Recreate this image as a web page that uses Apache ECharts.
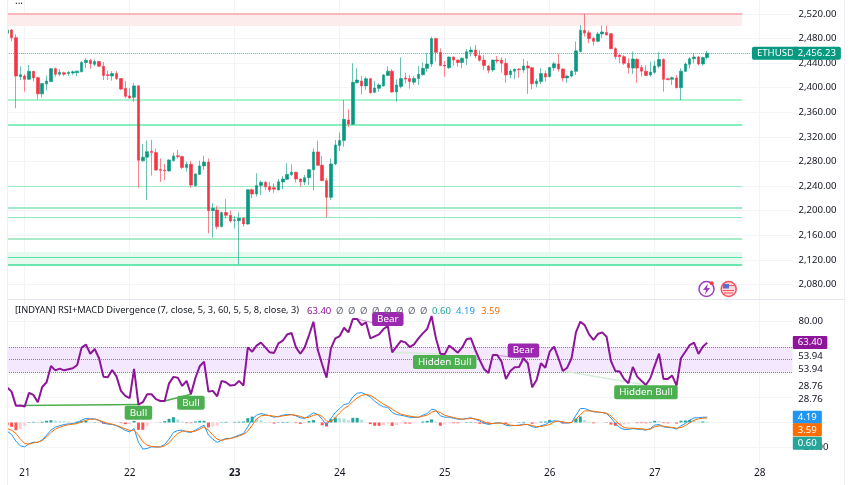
<!DOCTYPE html>
<html>
  <head>
    <meta charset="utf-8" />
    <script src="https://cdn.jsdelivr.net/npm/echarts@6/dist/echarts.min.js"></script>
  </head>
  <body>
    <style>
      html,
      body,
      #main {
        width: 100%;
        height: 100%;
        margin: 0;
        background: #fff;
      }
    </style>
    <div id="main"></div>
    <script>
      // hourly candles, first row is 4 hours before the "21" tick: [open, close, low, high]
      var candles = [
        [2488.5,2494,2487,2495],[2494,2481.5,2475.5,2495.6],[2481.5,2419,2366.5,2487],[2418,2421,2412.6,2435],
        [2419,2413.7,2393.6,2422],[2413.7,2426.7,2412.6,2437],[2426.7,2416,2410,2427],[2416.4,2390,2381,2418],
        [2390,2407,2384,2407],[2406,2411,2395,2420],[2410,2431,2409,2432],[2431,2422,2418,2433],
        [2422,2425,2419,2430.5],[2424.5,2422,2419,2426],[2423,2425,2419,2427],[2424,2426,2421,2428],
        [2424.5,2427,2419,2428],[2426,2441,2425,2443.5],[2441,2444.6,2432,2448],[2444.6,2439,2431,2447],
        [2438,2442.5,2435,2446],[2442.5,2435,2434,2444],[2435,2420,2412.6,2442],[2421,2420,2412.6,2428],
        [2419,2423,2411.5,2427],[2423,2415,2412.6,2427],[2415,2398,2396,2415],[2399,2386,2383,2411],
        [2386.6,2383.3,2382,2399],[2384.4,2403,2377,2408],[2403,2282,2237.4,2404],[2281,2287,2280,2308.5],
        [2287,2296,2217,2314],[2296.5,2294.4,2257,2315],[2294.4,2266,2265,2301],[2267,2265.6,2246.6,2285],
        [2266,2265,2250,2276],[2264.6,2282.5,2263.5,2283.5],[2281.4,2289,2279.7,2294.4],[2289.5,2288,2285,2298.7],
        [2288,2270,2268,2289],[2270,2275.4,2263.5,2280],[2275.4,2241.8,2237.4,2281],[2240.7,2259.7,2239,2260.8],
        [2259,2272.7,2258,2281.4],[2272.7,2279,2266,2289.5],[2279,2200,2163,2285],[2200,2203.8,2156,2212],
        [2201,2174,2169.6,2207.6],[2174,2196.8,2173,2198.4],[2196.8,2192.4,2187,2219],[2192.4,2183,2180.5,2200],
        [2184,2185,2171,2191],[2183.7,2187.5,2112.7,2197],[2187.5,2178.3,2174,2189],[2178.3,2234,2177,2235],
        [2234,2227,2220,2236],[2227,2241,2223,2261],[2241,2246,2225.5,2249],[2246,2239,2233.6,2248],
        [2239,2233.6,2230,2247],[2237.4,2235,2229,2244.5],[2233.6,2247,2233.6,2251.5],[2246.6,2251.5,2234.7,2256.4],
        [2251,2259,2250,2277],[2258.6,2262.4,2256.4,2275],[2262.4,2251.5,2245.6,2263.5],[2251.5,2247,2239,2252.5],
        [2246.6,2253.7,2241.8,2258],[2253.7,2266.7,2241.8,2267.8],[2266.7,2295.5,2232.6,2301.4],[2295.5,2273.8,2272.7,2314],
        [2274,2248.8,2248.8,2289],[2248.8,2221.7,2189,2253],[2221.7,2276,2217.4,2285],[2276,2306.8,2274,2315],
        [2306,2314,2297,2327],[2314,2348.6,2304,2380],[2347.5,2341,2335.6,2365],[2340.5,2408.8,2340,2439.7],
        [2408,2412.6,2407,2431.6],[2411,2403,2389,2419],[2403,2414.8,2396,2418],[2414.8,2392,2390,2416],
        [2392.5,2399.6,2392,2411],[2399,2404.5,2393.6,2407],[2403,2420.7,2402,2422],[2420,2427,2419,2435],
        [2427,2393,2392,2430],[2393,2404.5,2377,2413.7],[2402,2415,2399,2449.5],[2416,2414,2407,2424.5],
        [2415,2410,2398.5,2421],[2409,2415,2404.5,2419],[2415,2422,2404.5,2435],[2421,2431.6,2420,2441],
        [2431.6,2438.6,2426,2456],[2438.6,2480,2434,2482.6],[2480,2457.6,2442.4,2481.5],[2457.6,2436,2435.5,2464],
        [2436.5,2435.4,2418,2443.5],[2432.6,2450,2430.5,2450.6],[2450,2445,2436,2450.6],[2445,2441,2434,2446],
        [2441,2448,2431.6,2449.5],[2448,2458.7,2437,2463],[2458,2461.4,2450.6,2467],[2461.4,2451.7,2448,2469.6],
        [2452,2444.6,2442.4,2461],[2445,2436,2429,2453],[2435.4,2428.3,2423.5,2437],[2429,2445,2426,2445.5],
        [2445,2443.5,2439.7,2451.7],[2445,2440,2424.5,2449.5],[2439.7,2420.7,2408,2448],[2421,2427.2,2415.3,2430],
        [2427,2430,2413.7,2431.6],[2430.5,2429.4,2416,2431.6],[2429,2435.4,2424.5,2447],[2435.4,2432,2390,2443.5],
        [2432.6,2406.6,2397.4,2434],[2406.6,2411,2400.7,2415],[2410,2423,2406,2431.6],[2423,2417.5,2410,2427.8],
        [2418,2433,2417,2434],[2432.6,2439,2427.8,2442.4],[2438.6,2430.5,2426,2455],[2430.5,2416,2410,2431.6],
        [2416,2419,2408,2420],[2419,2426.7,2417,2429],[2426.7,2460,2420.7,2475],[2459,2493.4,2457.6,2502],
        [2493.4,2489,2483,2520],[2489.6,2480,2472.3,2493.5],[2480.4,2475.5,2468.5,2483],[2475.5,2487.5,2474,2491],
        [2487.5,2490.7,2480.4,2501],[2490,2486,2484.7,2501],[2488,2463.6,2462.5,2488.5],[2463.6,2450.6,2446.2,2465.8],
        [2453.3,2450.6,2439.7,2453.8],[2450.6,2439.7,2437,2453.3],[2439.7,2432.7,2423.5,2448],[2432,2446.8,2422.4,2458.7],
        [2446.2,2432,2408,2448],[2433,2427,2418,2437],[2427,2420,2419,2437],[2420.7,2425.6,2418,2442.4],
        [2425,2435.4,2422.4,2444],[2435,2446,2431.6,2457.6],[2446,2413.7,2393.6,2448],[2414.8,2413,2412.6,2416.5],
        [2413.7,2416.4,2404.5,2418],[2416,2400,2399,2420.7],[2400,2427,2380,2431.6],[2426.7,2438.6,2425.6,2441],
        [2438,2447,2431.6,2449.5],[2447,2450,2439.7,2456],[2450,2438.6,2436,2451.7],[2438.6,2449,2436,2450.6],
        [2449,2456.23,2446,2460]
      ];

      var rsiValues = [
        27.7,24.5,13.2,13.5,12.7,23.5,21.9,16.1,28.2,31.9,44.9,41.4,42.8,41.4,42.2,43,45.7,59.4,61.8,54.6,
        58.3,51,36.4,35.9,41.7,36.4,25.1,21.1,19.3,42.5,14.2,16.1,22.4,22.4,18.5,17.1,17.1,31.1,36.2,35.6,
        29,33,22.4,35.1,44.6,48.3,24.5,25.1,20.8,33,31.9,29.3,29.8,33,29.3,59.6,56.2,61,63.4,59.6,
        55.7,55.2,62.8,64.9,69.9,71,59.6,54.6,59.6,69.4,80,57.5,46,35.6,58.9,66.8,68.6,75.2,71.5,82.1,
        82.1,77.3,79.5,66.8,68.4,69.9,74.2,76.5,55.7,60.2,64.7,63.6,59.9,62,66.8,70.7,74.2,84.5,66.8,54.6,
        54.1,61,58.3,55.4,59.6,66,66.8,57.5,49.6,42.5,39.3,53.6,53.6,48.3,34.6,40.9,43.8,44.1,51,47,
        28,33.8,47,43.5,56.2,60.2,51,40.9,43.5,51,71.5,80,77.3,69.9,65.5,70.2,71.5,68.1,48.8,40.9,
        40.4,34.6,31.1,44.1,36.4,33,29.8,35.1,45.1,54.6,34.6,34.6,37.2,29.3,51,56.2,61.5,63.4,54.4,60.2,
        63.4
      ];

      var macdValues = [
        -6.9,-9.5,-14.8,-18.5,-19.3,-16.9,-15.6,-15.8,-13.7,-10,-6.1,-3.7,-2.6,-1.6,-1.1,-0.8,0,1.8,3.2,2.9,
        2.9,1.6,-0.5,-1.3,-1.6,-2.6,-4.2,-6.3,-7.4,-4.8,-15.8,-21.1,-20.6,-19.3,-19.5,-19.3,-17.4,-13.2,-7.9,-6.3,
        -6.1,-7.4,-7.9,-6.1,-4,-2.1,-10,-13.2,-15.8,-14,-12.7,-12.7,-11.4,-10,-8.7,-3.4,2.6,5.8,7.1,6.3,
        5.3,4.2,4.8,5.8,6.3,6.3,5.3,3.7,3.2,5.3,7.7,6.3,2.6,-2.1,3.2,7.9,11.1,14.3,15,20.3,
        23.2,23.8,22.2,20.3,16.9,14.3,12.4,12.1,7.9,6.3,5.8,5,4.2,4,4.2,5.8,7.1,10.6,9.8,5.3,
        4.2,4.2,3.4,2.6,2.6,3.2,3.7,2.6,1.1,-0.5,-1.6,-0.8,-0.3,-0.5,-2.1,-2.6,-2.4,-2.1,-1.3,-1.6,
        -3.4,-4,-2.6,-1.6,0.5,1.3,1.1,-0.3,-0.5,0,5.8,11.1,11.1,9.8,8.4,8.2,7.9,7.1,3.7,-0.8,
        -4,-5.5,-5.5,-4.8,-5.3,-5.5,-6.1,-4.8,-2.1,-1.6,-3.4,-4,-4.2,-5.3,-2.6,-0.8,1.8,3.7,3.7,4.2,
        4.19
      ];

      var signalValues = [
        -4.8,-6.1,-8.7,-13.2,-16.6,-17.2,-16.1,-15.6,-14.3,-11.4,-7.9,-5.3,-3.7,-2.6,-1.8,-1.3,-0.8,0.5,1.8,2.6,
        2.6,1.8,0.5,-0.8,-1.3,-2.4,-3.7,-5,-6.3,-6.1,-10,-15.3,-18,-19,-19.3,-19.5,-18.5,-16.1,-12.1,-8.7,
        -6.9,-6.9,-7.4,-6.9,-5.3,-3.4,-6.1,-10,-13.2,-14.3,-13.2,-12.7,-11.9,-10.6,-9.5,-6.9,-2.1,2.6,5.3,5.8,
        5.5,5,4.5,5.3,5.8,6.1,5.8,4.8,3.7,4.2,5.8,6.3,4.8,1.1,0.5,4,7.7,11.1,13.2,16.6,
        19.5,21.6,22.2,21.6,19.5,16.9,14.5,12.9,10.6,8.4,6.6,5.8,5,4.5,4.2,5,5.8,8.2,9.2,7.9,
        5.8,4.8,4,3.2,2.6,2.9,3.2,2.9,2.1,0.5,-0.5,-0.8,-0.5,-0.5,-1.1,-2.1,-2.4,-2.4,-1.8,-1.6,
        -2.4,-3.2,-3.2,-2.4,-1.6,0.5,1.1,0.5,-0.3,0,2.6,6.3,9.2,9.2,9,8.4,7.9,7.4,5.3,1.8,
        -1.6,-4,-4.5,-4.5,-4.8,-5,-5.5,-5.3,-3.4,-2.6,-2.9,-3.4,-4,-4.5,-4,-2.4,-0.3,1.8,2.9,3.4,
        3.59
      ];

      var histValues = [
        -2.1,-3.4,-6.1,-5.3,-2.7,0.3,0.5,-0.2,0.6,1.4,1.8,1.6,1.1,1,0.7,0.5,0.8,1.3,1.4,0.3,
        0.3,-0.2,-1,-0.5,-0.3,-0.2,-0.5,-1.3,-1.1,1.3,-5.8,-5.8,-2.6,-0.3,-0.2,0.2,1.1,2.9,4.2,2.4,
        0.8,-0.5,-0.5,0.8,1.3,1.3,-3.9,-3.2,-2.6,0.3,0.5,0,0.5,0.6,0.8,3.5,4.7,3.2,1.8,0.5,
        -0.2,-0.8,0.3,0.5,0.5,0.2,-0.5,-1.1,-0.5,1.1,1.9,0,-2.2,-3.2,2.7,3.9,3.4,3.2,1.8,3.7,
        3.7,2.2,0,-1.3,-2.6,-2.6,-2.1,-0.8,-2.7,-2.1,-0.8,-0.8,-0.8,-0.5,0,0.8,1.3,2.4,0.6,-2.6,
        -1.6,-0.6,-0.6,-0.6,0,0.3,0.5,-0.3,-1,-1,-1.1,0,0.2,0,-1,-0.5,0,0.3,0.5,0,
        -1,-0.8,0.6,0.8,2.1,0.8,0,-0.8,-0.2,0,3.2,4.8,1.9,0.6,-0.6,-0.2,0,-0.3,-1.6,-2.6,
        -2.4,-1.5,-1,-0.3,-0.5,-0.5,-0.6,0.5,1.3,1,-0.5,-0.6,-0.2,-0.8,1.4,1.6,2.1,1.9,0.8,0.8,
        0.6
      ];

      var dayTicks = ['20', '21', '22', '23', '24', '25', '26', '27', '28'];

      var lastPrice = 2456.23;
      var resistanceLevel = 2520;
      var resistanceZone = [2500.4, 2520];
      var supportLevels = [2380, 2340.5, 2240, 2205, 2189, 2154, 2124, 2112.7];
      var supportZone = [2112.7, 2132.8];
      var rsiBand = [40, 60];
      var rsiBandLines = [60, 50, 40];

      // [hour, value, hour, value], hour 0 is the "21" tick
      var bullLines = [[-1, 13.5, 26, 14.2], [32, 17.1, 38, 22.4]];
      var bearLines = [[76, 82.1, 83, 76.5], [107, 53.6, 114, 51]];
      var hiddenLines = [[84, 55.7, 96, 54.1], [123, 40.9, 142, 29.8]];
      var signalTags = [
        ['Bull', 26, 7.7],
        ['Bull', 38, 15.6],
        ['Bear', 83, 82.1],
        ['Hidden Bull', 96, 48.1],
        ['Bear', 114, 57.2],
        ['Hidden Bull', 142, 24]
      ];
      var scaleTexts = [['53.94', 52.8], ['53.94', 42.5], ['28.76', 29.1], ['28.76', 18.8]];
      var lastTags = [['63.40', 63.4], ['4.19', 4.19], ['3.59', -5.8], ['0.60', -16.5]];

      var indicatorName = '[INDYAN] RSI+MACD Divergence (7, close, 5, 3, 60, 5, 5, 8, close, 3)';
      var legendTexts = ['63.40', 'Ø', 'Ø', 'Ø', 'Ø', 'Ø', 'Ø', 'Ø', 'Ø', '0.60', '4.19', '3.59'];

      var FONT = '"Noto Sans", sans-serif';
      var TEXT = '#131722';
      var GRID_LINE = '#f2f4f8';
      var UP = '#089981';
      var DOWN = '#f23645';
      var PURPLE = '#8e1599';
      var BLUE = '#2196f3';
      var ORANGE = '#ff6d00';
      var FIRST_HOUR = -4;
      var ZONE_END = 164;

      function idx(hour) {
        return hour - FIRST_HOUR;
      }

      // 180 hourly slots, keeps room for the empty part up to the price scale
      var categories = [];
      for (var k = 0; k < 180; k++) {
        var hour = k + FIRST_HOUR + 24;
        categories.push(dayTicks[Math.floor(hour / 24)] + ' ' + (hour % 24));
      }

      function isDayTick(index) {
        return (index - idx(0)) % 24 === 0;
      }

      function hLine(value, from, to, color, width, type) {
        return [
          {
            coord: [idx(from), value],
            lineStyle: { color: color, width: width, type: type || 'solid' }
          },
          { coord: [idx(to), value] }
        ];
      }

      function slant(row, color, width) {
        return [
          {
            coord: [idx(row[0]), row[1]],
            lineStyle: { color: color, width: width, type: 'solid' }
          },
          { coord: [idx(row[2]), row[3]] }
        ];
      }

      var levelColors = ['#aaf3cf', '#5fe9a9', '#9cecc4', '#a5eac8', '#8fe8bb', '#8ce5b8', '#5ae3a6', '#3ddf97'];
      var levelWidths = [2, 1.5, 1, 2, 1, 1.5, 1, 1.5];
      var levelLines = [hLine(resistanceLevel, FIRST_HOUR, ZONE_END, '#f7a3a8', 1.5)];
      supportLevels.forEach(function (v, i) {
        levelLines.push(hLine(v, FIRST_HOUR, ZONE_END, levelColors[i], levelWidths[i]));
      });
      levelLines.push(hLine(lastPrice, FIRST_HOUR, 166, '#4db6a6', 1, 'dotted'));

      var tagPad = [1, 5];

      var option = {
        animation: false,
        title: [
          {
            text: '...',
            left: 10,
            top: -9,
            textStyle: { fontFamily: FONT, fontSize: 10, fontWeight: 'normal', color: TEXT }
          },
          {
            text: indicatorName,
            left: 10,
            top: 301,
            textStyle: { fontFamily: FONT, fontSize: 9.25, fontWeight: 'normal', color: TEXT }
          }
        ].concat(
          legendTexts.map(function (text, i) {
            var lefts = [302, 331, 343, 355, 367, 379, 391, 403, 415, 427, 451, 476];
            var colors = [PURPLE, '#6a6d78', '#6a6d78', '#6a6d78', '#6a6d78', '#6a6d78', '#6a6d78', '#6a6d78', '#6a6d78', '#26a69a', BLUE, ORANGE];
            return {
              text: text,
              left: lefts[i],
              top: 301,
              textStyle: { fontFamily: FONT, fontSize: 9.5, fontWeight: 'normal', color: colors[i] }
            };
          })
        ),
        grid: [
          { left: 5, width: 787.5, top: -10.6, height: 319.56, outerBoundsMode: 'none' },
          { left: 5, width: 787.5, top: 296.5, height: 176.4, outerBoundsMode: 'none' }
        ],
        xAxis: [
          {
            type: 'category',
            gridIndex: 0,
            data: categories,
            axisLine: { show: false },
            axisTick: { show: false },
            axisLabel: { show: false },
            splitLine: {
              show: true,
              alignWithLabel: true,
              interval: isDayTick,
              lineStyle: { color: GRID_LINE }
            }
          },
          {
            type: 'category',
            gridIndex: 1,
            data: categories,
            axisLine: { show: false },
            axisTick: { show: false },
            axisLabel: {
              interval: isDayTick,
              margin: -5,
              fontFamily: FONT,
              fontSize: 10,
              color: TEXT,
              formatter: function (value) {
                var day = value.split(' ')[0];
                return day === '23' ? '{b|' + day + '}' : day;
              },
              rich: {
                b: { fontFamily: FONT, fontSize: 10, fontWeight: 'bold', color: TEXT }
              }
            },
            splitLine: {
              show: true,
              alignWithLabel: true,
              interval: isDayTick,
              lineStyle: { color: GRID_LINE }
            }
          }
        ],
        yAxis: [
          {
            type: 'value',
            gridIndex: 0,
            position: 'right',
            min: 2040,
            max: 2560,
            interval: 40,
            axisLine: { show: false },
            axisTick: { show: false },
            axisLabel: {
              showMinLabel: false,
              showMaxLabel: false,
              margin: 6,
              fontFamily: FONT,
              fontSize: 9.6,
              color: TEXT,
              formatter: function (v) {
                return v.toLocaleString('en-US', { minimumFractionDigits: 2 });
              }
            },
            splitLine: {
              showMinLine: false,
              showMaxLine: false,
              lineStyle: { color: GRID_LINE }
            }
          },
          {
            type: 'value',
            gridIndex: 1,
            position: 'right',
            min: -40,
            max: 100,
            interval: 20,
            axisLine: { show: false },
            axisTick: { show: false },
            axisLabel: {
              showMinLabel: false,
              showMaxLabel: false,
              margin: 6,
              fontFamily: FONT,
              fontSize: 9.6,
              color: TEXT,
              formatter: function (v) {
                return v === 80 ? '80.00' : v === -20 ? '\u221220.00' : '';
              }
            },
            splitLine: {
              showMinLine: false,
              showMaxLine: false,
              lineStyle: { color: GRID_LINE }
            }
          }
        ],
        series: [
          {
            type: 'candlestick',
            xAxisIndex: 0,
            yAxisIndex: 0,
            data: candles,
            barWidth: 3,
            silent: true,
            itemStyle: {
              color: UP,
              color0: DOWN,
              borderColor: 'rgba(8,153,129,0.6)',
              borderColor0: 'rgba(242,54,69,0.6)',
              borderWidth: 1
            },
            markArea: {
              silent: true,
              z: 1,
              data: [
                [
                  { coord: [idx(FIRST_HOUR), resistanceZone[0]], itemStyle: { color: '#fdecec' } },
                  { coord: [idx(ZONE_END), resistanceZone[1]] }
                ],
                [
                  { coord: [idx(FIRST_HOUR), supportZone[0]], itemStyle: { color: '#e6faf0' } },
                  { coord: [idx(ZONE_END), supportZone[1]] }
                ]
              ]
            },
            markLine: {
              silent: true,
              z: 1,
              symbol: 'none',
              label: { show: false },
              data: levelLines
            },
            markPoint: {
              silent: true,
              symbol: 'rect',
              symbolSize: 0,
              data: [
                {
                  coord: [170, lastPrice],
                  label: {
                    show: true,
                    position: 'right',
                    distance: 0,
                    offset: [1, 0],
                    formatter: 'ETHUSD',
                    padding: tagPad,
                    lineHeight: 11,
                    borderRadius: 2,
                    backgroundColor: UP,
                    color: '#fff',
                    fontFamily: FONT,
                    fontSize: 9.6
                  }
                },
                {
                  coord: [179, lastPrice],
                  label: {
                    show: true,
                    position: 'right',
                    distance: 0,
                    offset: [2.5, 0],
                    formatter: lastPrice.toLocaleString('en-US'),
                    padding: tagPad,
                    lineHeight: 11,
                    borderRadius: 2,
                    backgroundColor: UP,
                    color: '#fff',
                    fontFamily: FONT,
                    fontSize: 9.6
                  }
                }
              ]
            }
          },
          {
            type: 'bar',
            xAxisIndex: 1,
            yAxisIndex: 1,
            barWidth: 3,
            silent: true,
            z: 2,
            data: histValues.map(function (v, i) {
              var prev = i ? histValues[i - 1] : 0;
              var c = v >= 0 ? (v >= prev ? '#26a69a' : '#b2dfdb') : v <= prev ? '#ff5252' : '#ffcdd2';
              return { value: v, itemStyle: { color: c } };
            })
          },
          {
            type: 'line',
            xAxisIndex: 1,
            yAxisIndex: 1,
            data: macdValues,
            showSymbol: false,
            silent: true,
            z: 3,
            lineStyle: { color: BLUE, width: 1 }
          },
          {
            type: 'line',
            xAxisIndex: 1,
            yAxisIndex: 1,
            data: signalValues,
            showSymbol: false,
            silent: true,
            z: 3,
            lineStyle: { color: ORANGE, width: 1 }
          },
          {
            type: 'line',
            xAxisIndex: 1,
            yAxisIndex: 1,
            data: rsiValues,
            showSymbol: false,
            silent: true,
            z: 4,
            lineStyle: { color: PURPLE, width: 2 },
            markArea: {
              silent: true,
              z: 1,
              data: [[{ yAxis: rsiBand[0], itemStyle: { color: '#f3e8fd' } }, { yAxis: rsiBand[1] }]]
            },
            markLine: {
              silent: true,
              z: 1,
              symbol: 'none',
              label: { show: false },
              data: rsiBandLines
                .map(function (v) {
                  return {
                    yAxis: v,
                    lineStyle: { color: '#8f8296', width: 1, type: 'dotted' }
                  };
                })
                .concat(bullLines.map(function (r) { return slant(r, '#4caf50', 1.5); }))
                .concat(bearLines.map(function (r) { return slant(r, '#c58fd0', 1); }))
                .concat(hiddenLines.map(function (r) { return slant(r, '#d5ecd6', 1.5); }))
            },
            markPoint: {
              silent: true,
              symbol: 'rect',
              symbolSize: 0,
              z: 6,
              data: signalTags
                .map(function (row) {
                  return {
                    coord: [idx(row[1]), row[2]],
                    label: {
                      show: true,
                      position: 'inside',
                      formatter: row[0],
                      padding: [1.5, 5],
                      lineHeight: 11,
                      borderRadius: 2,
                      backgroundColor: row[0] === 'Bear' ? '#9c27b0' : '#4caf50',
                      color: '#fff',
                      fontFamily: FONT,
                      fontSize: 9.8
                    }
                  };
                })
                .concat(
                  scaleTexts.map(function (row) {
                    return {
                      coord: [179, row[1]],
                      label: {
                        show: true,
                        position: 'right',
                        distance: 0,
                        offset: [8, 0],
                        formatter: row[0],
                        color: TEXT,
                        fontFamily: FONT,
                        fontSize: 9.6
                      }
                    };
                  })
                )
                .concat(
                  lastTags.map(function (row, i) {
                    return {
                      coord: [179, row[1]],
                      label: {
                        show: true,
                        position: 'right',
                        distance: 0,
                        offset: [2.5, 0],
                        formatter: row[0],
                        padding: tagPad,
                        lineHeight: 11,
                        borderRadius: 1,
                        backgroundColor: [PURPLE, BLUE, ORANGE, '#26a69a'][i],
                        color: '#fff',
                        fontFamily: FONT,
                        fontSize: 9.6
                      }
                    };
                  })
                )
            }
          }
        ],
        graphic: [
          // white strip left of the plot, then pane borders
          { type: 'rect', z: 50, shape: { x: 0, y: 0, width: 7.5, height: 485 }, style: { fill: '#fff' } },
          { type: 'line', z: 51, shape: { x1: 7.5, y1: 0, x2: 7.5, y2: 485 }, style: { stroke: '#eef0f5', lineWidth: 1 } },
          { type: 'line', z: 51, shape: { x1: 844.5, y1: 0, x2: 844.5, y2: 485 }, style: { stroke: '#eef0f5', lineWidth: 1 } },
          { type: 'line', z: 51, shape: { x1: 8, y1: 299.5, x2: 844, y2: 299.5 }, style: { stroke: '#e6e8ef', lineWidth: 1 } },
          // session and currency badges
          { type: 'circle', z: 52, shape: { cx: 706.5, cy: 289, r: 7.5 }, style: { fill: '#fff', stroke: '#a13cc4', lineWidth: 1.5 } },
          { type: 'polygon', z: 53, shape: { points: [[708, 283.5], [703, 290], [706, 290], [705, 294.5], [710, 288], [707, 288]] }, style: { fill: '#a13cc4' } },
          { type: 'circle', z: 53, shape: { cx: 711.7, cy: 283.3, r: 2 }, style: { fill: '#f23645' } },
          { type: 'circle', z: 52, shape: { cx: 728.7, cy: 289, r: 7.5 }, style: { fill: '#fbd8da', stroke: '#f4525e', lineWidth: 1.5 } },
          { type: 'rect', z: 53, shape: { x: 723, y: 284, width: 6, height: 4.5 }, style: { fill: '#5f6fd0' } },
          { type: 'rect', z: 53, shape: { x: 729, y: 285, width: 5, height: 1 }, style: { fill: '#f4525e' } },
          { type: 'rect', z: 53, shape: { x: 723, y: 290, width: 11, height: 1 }, style: { fill: '#f4525e' } },
          { type: 'rect', z: 53, shape: { x: 724, y: 292.5, width: 9, height: 1 }, style: { fill: '#f4525e' } }
        ]
      };

      var chart = echarts.init(document.getElementById('main'));
      chart.setOption(option);

      window.onresize = function () {
        chart.resize();
      };
    </script>
  </body>
</html>
